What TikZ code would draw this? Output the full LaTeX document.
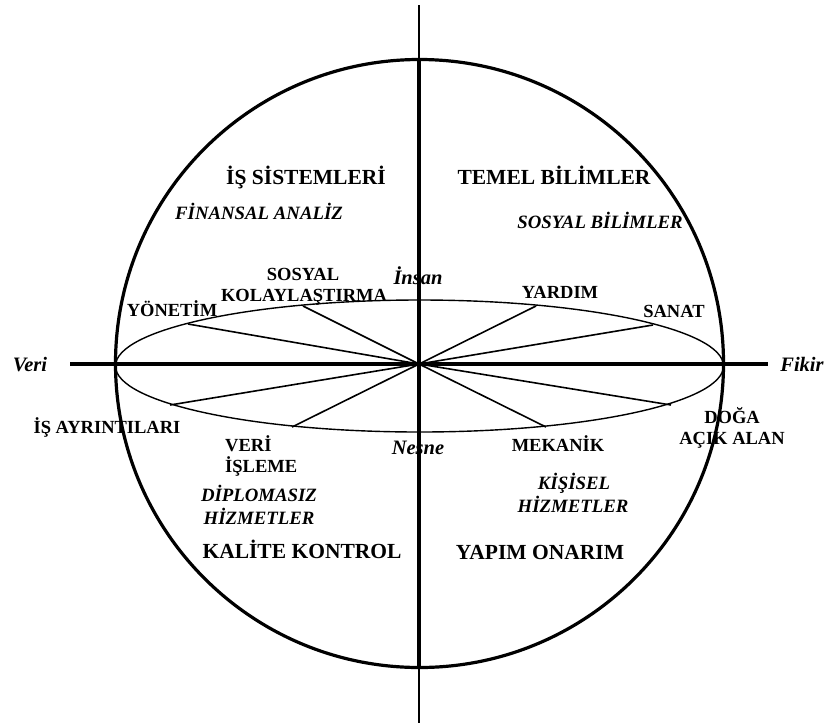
\documentclass[tikz,border=0pt]{standalone}
\usepackage{fontspec}
\setmainfont{Liberation Serif}
\begin{document}
\begin{tikzpicture}[x=1pt,y=-1pt,
  bigl/.style={anchor=base,inner sep=0pt,font=\fontsize{21.5}{24}\selectfont\bfseries},
  smll/.style={anchor=base,inner sep=0pt,font=\fontsize{18.5}{21}\selectfont\bfseries},
  itl/.style={anchor=base,inner sep=0pt,font=\fontsize{18.8}{21}\selectfont\bfseries\itshape},
  axl/.style={anchor=base,inner sep=0pt,font=\fontsize{20.5}{23}\selectfont\bfseries\itshape},
  thinax/.style={line width=1.3pt},
  thickax/.style={line width=3.2pt},
  rim/.style={line width=3.2pt},
  ell/.style={line width=1.4pt},
  spoke/.style={line width=1.6pt}
]
\useasboundingbox (0,0) rectangle (826,723);
% axes
\coordinate (vtop) at (419,5);
\coordinate (vbot) at (419,723);
\coordinate (ctop) at (419,60);
\coordinate (cbot) at (419,667);
\coordinate (hl) at (70,364);
\coordinate (hr) at (768,364);
\coordinate (O) at (419,364);
\draw[thinax] (vtop) -- (vbot);
\draw[thickax] (ctop) -- (cbot);
% circle and ellipse
\draw[rim] (419.5,363.5) circle [radius=304pt];
\draw[ell] (419.5,366) ellipse [x radius=304pt, y radius=66pt];
\draw[thickax] (hl) -- (hr);
% spoke ends on the ellipse
\coordinate (s1) at (188,324);
\coordinate (s2) at (303,306);
\coordinate (s3) at (536,306);
\coordinate (s4) at (653,325);
\coordinate (s5) at (170,405);
\coordinate (s6) at (292,427);
\coordinate (s7) at (546,427);
\coordinate (s8) at (671,405);
\foreach \s in {s1,s2,s3,s4,s5,s6,s7,s8} \draw[spoke] (O) -- (\s);
% axis labels
\node[axl] (veri) at (30,371) {Veri};
\node[axl] (fikir) at (802,371) {Fikir};
\node[axl] (insan) at (418,284) {İnsan};
\node[axl] (nesne) at (418,454) {Nesne};
% quadrant titles
\node[bigl] (issis) at (306,184) {İŞ SİSTEMLERİ};
\node[bigl] (temel) at (554,184) {TEMEL BİLİMLER};
\node[bigl] (kalite) at (302,558) {KALİTE KONTROL};
\node[bigl] (yapim) at (540,559) {YAPIM ONARIM};
% italic sublabels
\node[itl] (finans) at (259,219) {FİNANSAL ANALİZ};
\node[itl] (sosbil) at (600,228) {SOSYAL BİLİMLER};
\node[itl] (dipl1) at (259,501) {DİPLOMASIZ};
\node[itl] (dipl2) at (259,524) {HİZMETLER};
\node[itl] (kis1) at (574,489) {KİŞİSEL};
\node[itl] (kis2) at (573,512) {HİZMETLER};
% spoke labels
\node[smll] (sos1) at (303,280) {SOSYAL};
\node[smll] (sos2) at (304,301) {KOLAYLAŞTIRMA};
\node[smll] (yon) at (172,316) {YÖNETİM};
\node[smll] (yard) at (560,298) {YARDIM};
\node[smll] (sanat) at (674,317) {SANAT};
\node[smll] (isayr) at (107,433) {İŞ AYRINTILARI};
\node[smll,anchor=base west] (veri1) at (225,451) {VERİ};
\node[smll,anchor=base west] (veri2) at (225,472) {İŞLEME};
\node[smll] (mek) at (558,451) {MEKANİK};
\node[smll] (doga) at (732,423) {DOĞA};
\node[smll] (acik) at (732,444) {AÇIK ALAN};
\end{tikzpicture}
\end{document}
